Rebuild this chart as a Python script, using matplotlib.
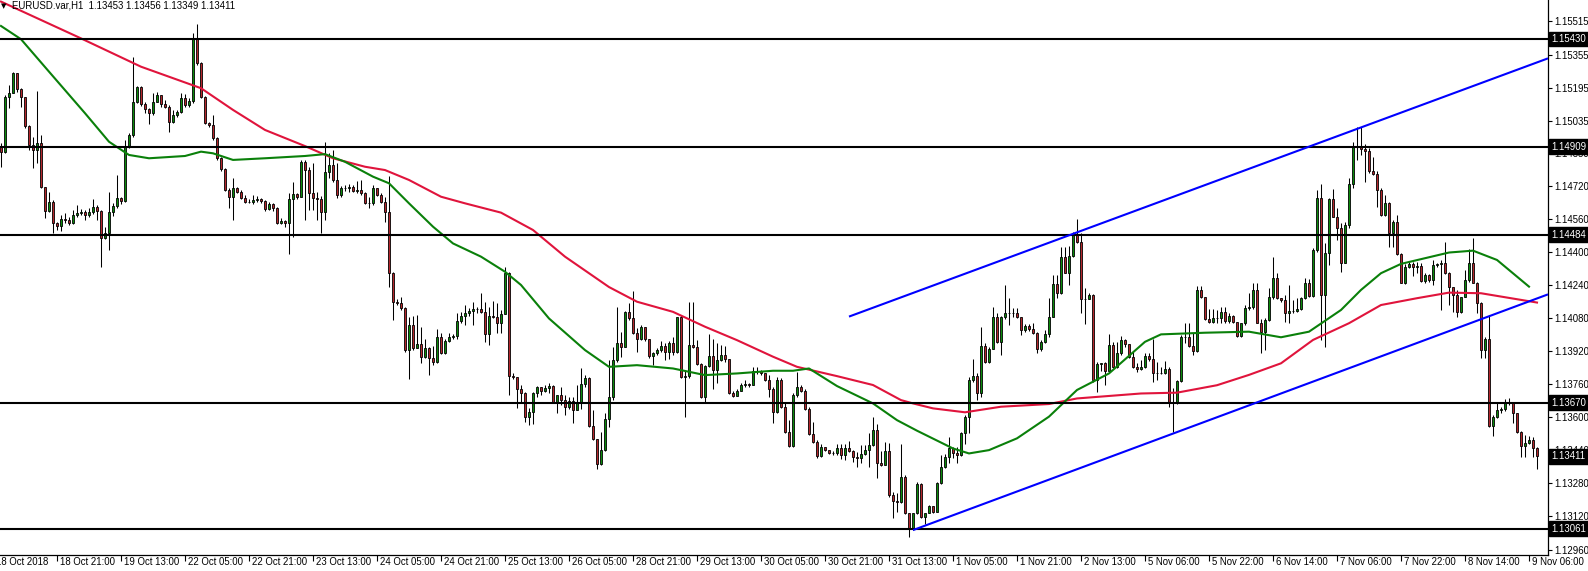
import numpy as np
import matplotlib.pyplot as plt
from matplotlib.transforms import ScaledTranslation, blended_transform_factory

# EURUSD H1 candles, prices in points (1e-5)
open0 = 114909
close_pts = [
    114885, 115151, 115167, 115267, 115187, 115148, 115009, 114917, 114893, 114925,
    114712, 114600, 114643, 114541, 114525, 114558, 114554, 114541, 114579, 114590,
    114593, 114577, 114593, 114619, 114598, 114466, 114490, 114595, 114622, 114659,
    114646, 114912, 114966, 115127, 115196, 115116, 115090, 115071, 115124, 115158,
    115114, 115103, 115027, 115062, 115079, 115143, 115111, 115130, 115429, 115313,
    115151, 115022, 115016, 114951, 114853, 114800, 114700, 114667, 114711, 114692,
    114659, 114643, 114643, 114651, 114654, 114648, 114606, 114632, 114611, 114541,
    114551, 114541, 114654, 114680, 114664, 114837, 114796, 114683, 114659, 114654,
    114594, 114788, 114820, 114748, 114675, 114707, 114711, 114715, 114696, 114699,
    114683, 114635, 114638, 114707, 114675, 114643, 114591, 114296, 114159, 114151,
    114127, 113925, 114046, 113933, 113954, 113890, 113933, 113885, 113869, 113986,
    113912, 113970, 113990, 113993, 114065, 114090, 114106, 114115, 114125, 114125,
    114111, 114002, 114091, 114086, 114054, 114099, 114296, 113799, 113793, 113735,
    113719, 113599, 113627, 113715, 113748, 113728, 113740, 113751, 113670, 113706,
    113683, 113648, 113680, 113635, 113675, 113759, 113791, 113557, 113493, 113373,
    113444, 113590, 113699, 113877, 113957, 113941, 114109, 114078, 114009, 113981,
    114035, 113977, 113896, 113909, 113925, 113944, 113917, 113957, 113917, 114083,
    113793, 113799, 113949, 113938, 113857, 113699, 113847, 113896, 113831, 113877,
    113901, 113880, 113715, 113702, 113726, 113756, 113760, 113756, 113823, 113825,
    113812, 113780, 113739, 113627, 113780, 113651, 113530, 113460, 113707, 113747,
    113728, 113638, 113518, 113481, 113414, 113454, 113444, 113428, 113425, 113449,
    113417, 113449, 113438, 113406, 113401, 113422, 113444, 113465, 113538, 113377,
    113369, 113438, 113224, 113196, 113191, 113309, 113135, 113062, 113135, 113277,
    113119, 113135, 113170, 113143, 113280, 113357, 113406, 113449, 113425, 113417,
    113522, 113599, 113780, 113799, 113715, 113944, 113869, 113928, 114086, 113965,
    114083, 114103, 114106, 114103, 114083, 114022, 114041, 114025, 114009, 113928,
    113965, 114003, 114086, 114245, 114199, 114374, 114299, 114380, 114482, 114449,
    114170, 114174, 114190, 113780, 113857, 113861, 113825, 113949, 113845, 113909,
    113973, 113954, 113893, 113845, 113832, 113841, 113896, 113880, 113812, 113812,
    113815, 113832, 113670, 113667, 113777, 113986, 113990, 113944, 113922, 114215,
    114180, 114074, 114062, 114078, 114079, 114111, 114068, 114090, 114063, 113993,
    114055, 114127, 114132, 114216, 114058, 114014, 114071, 114181, 114272, 114176,
    114168, 114103, 114114, 114114, 114122, 114176, 114251, 114187, 114410, 114660,
    114192, 114393, 114655, 114571, 114514, 114348, 114531, 114729, 114906, 114906,
    114897, 114890, 114789, 114777, 114700, 114579, 114635, 114493, 114547, 114390,
    114251, 114329, 114342, 114329, 114332, 114261, 114289, 114264, 114337, 114342,
    114348, 114297, 114229, 114192, 114111, 114181, 114264, 114345, 114251, 114155,
    113926, 113977, 113557, 113603, 113635, 113638, 113675, 113675, 113622, 113530,
    113461, 113477, 113490, 113453, 113411,
]
high_pts = [
    114925, 115159, 115208, 115272, 115267, 115192, 115151, 115014, 114958, 115180,
    114966, 114716, 114692, 114651, 114546, 114579, 114587, 114571, 114603, 114627,
    114606, 114603, 114611, 114654, 114627, 114603, 114522, 114692, 114635, 114772,
    114667, 114942, 114974, 115345, 115203, 115203, 115127, 115095, 115171, 115174,
    115159, 115135, 115111, 115087, 115087, 115167, 115164, 115143, 115458, 115503,
    115321, 115154, 115030, 115062, 114958, 114861, 114804, 114708, 114756, 114716,
    114700, 114675, 114654, 114675, 114671, 114659, 114651, 114643, 114635, 114619,
    114562, 114554, 114687, 114740, 114683, 114845, 114844, 114812, 114828, 114691,
    114670, 114933, 114877, 114893, 114828, 114719, 114723, 114728, 114723, 114744,
    114748, 114691, 114667, 114723, 114711, 114683, 114667, 114767, 114304, 114170,
    114183, 114135, 114086, 114090, 114094, 114038, 113981, 113941, 113944, 114025,
    114006, 113981, 114006, 114002, 114102, 114111, 114143, 114127, 114159, 114135,
    114199, 114159, 114135, 114164, 114151, 114119, 114328, 114304, 113815, 113796,
    113756, 113723, 113643, 113723, 113751, 113748, 113756, 113767, 113756, 113707,
    113748, 113707, 113699, 113699, 113756, 113836, 113804, 113796, 113635, 113497,
    113530, 113619, 113877, 113941, 114135, 114014, 114115, 114151, 114212, 114030,
    114046, 114038, 113981, 113917, 113933, 113970, 113960, 113970, 113989, 114086,
    114094, 113828, 114159, 114159, 113973, 113864, 113852, 114002, 113981, 113960,
    113949, 113944, 113860, 113728, 113739, 113767, 113780, 113767, 113844, 113841,
    113831, 113812, 113804, 113748, 113793, 113788, 113667, 113586, 113715, 113820,
    113756, 113739, 113651, 113578, 113489, 113470, 113457, 113441, 113438, 113470,
    113470, 113470, 113486, 113441, 113433, 113465, 113465, 113522, 113603, 113567,
    113438, 113482, 113474, 113240, 113232, 113470, 113320, 113138, 113138, 113288,
    113280, 113138, 113175, 113173, 113288, 113417, 113422, 113503, 113457, 113457,
    113530, 113611, 113796, 113880, 113812, 114038, 113957, 113941, 114132, 114102,
    114090, 114240, 114175, 114127, 114127, 114086, 114051, 114051, 114054, 114014,
    113973, 114022, 114175, 114288, 114288, 114425, 114425, 114428, 114498, 114557,
    114490, 114224, 114199, 114195, 113869, 113864, 113869, 114003, 113965, 113965,
    113993, 113981, 113949, 113917, 113864, 113877, 113912, 113909, 113977, 113869,
    113844, 113874, 113845, 113740, 113780, 113998, 114057, 114057, 114006, 114235,
    114235, 114183, 114122, 114122, 114119, 114135, 114135, 114103, 114095, 114061,
    114058, 114143, 114200, 114248, 114251, 114074, 114079, 114224, 114377, 114297,
    114176, 114192, 114240, 114168, 114176, 114184, 114272, 114268, 114418, 114700,
    114729, 114442, 114660, 114703, 114611, 114539, 114547, 114756, 114934, 115003,
    115003, 114922, 114902, 114861, 114789, 114708, 114676, 114643, 114555, 114579,
    114393, 114342, 114353, 114353, 114353, 114348, 114297, 114293, 114361, 114348,
    114361, 114450, 114305, 114232, 114216, 114184, 114313, 114413, 114466, 114256,
    114160, 113990, 114095, 113611, 113667, 113648, 113687, 113691, 113675, 113606,
    113535, 113514, 113509, 113506, 113456,
]
low_pts = [
    114812, 114880, 115095, 115167, 115175, 115103, 114998, 114893, 114804, 114829,
    114708, 114562, 114595, 114493, 114506, 114503, 114541, 114530, 114535, 114571,
    114579, 114554, 114571, 114583, 114554, 114329, 114461, 114409, 114574, 114611,
    114632, 114643, 114901, 114958, 115119, 115106, 115074, 115019, 115062, 115127,
    115100, 115095, 114982, 115022, 115054, 115071, 115103, 115103, 115122, 115304,
    115143, 115019, 115006, 114942, 114845, 114793, 114696, 114611, 114554, 114683,
    114654, 114635, 114635, 114632, 114643, 114638, 114600, 114603, 114600, 114535,
    114535, 114522, 114390, 114474, 114654, 114664, 114554, 114602, 114602, 114554,
    114490, 114554, 114756, 114740, 114659, 114664, 114696, 114691, 114691, 114683,
    114675, 114632, 114611, 114627, 114670, 114635, 114546, 114232, 114070, 114143,
    114119, 113917, 113783, 113925, 113941, 113861, 113885, 113804, 113853, 113864,
    113906, 113906, 113965, 113977, 113981, 114057, 114046, 114090, 114046, 114102,
    114102, 113965, 113949, 114078, 114006, 114006, 114127, 113707, 113783, 113643,
    113670, 113578, 113562, 113567, 113699, 113707, 113723, 113715, 113667, 113622,
    113659, 113610, 113638, 113573, 113635, 113638, 113748, 113554, 113490, 113352,
    113369, 113438, 113554, 113683, 113868, 113893, 113938, 114070, 114002, 113917,
    113973, 113970, 113889, 113852, 113901, 113917, 113877, 113880, 113901, 113909,
    113788, 113602, 113788, 113933, 113852, 113691, 113675, 113841, 113739, 113764,
    113873, 113868, 113712, 113699, 113702, 113728, 113744, 113748, 113756, 113809,
    113804, 113777, 113699, 113573, 113622, 113647, 113525, 113454, 113457, 113699,
    113723, 113635, 113514, 113477, 113401, 113409, 113438, 113422, 113417, 113417,
    113396, 113393, 113433, 113385, 113357, 113377, 113417, 113357, 113461, 113304,
    113364, 113369, 113215, 113111, 113143, 113186, 113132, 113022, 113054, 113132,
    113115, 113083, 113138, 113138, 113143, 113277, 113353, 113377, 113401, 113377,
    113412, 113470, 113522, 113772, 113683, 113699, 113861, 113864, 113941, 113957,
    113901, 114074, 114046, 114083, 114078, 113998, 114014, 114019, 114003, 113909,
    113922, 113961, 113990, 114083, 114175, 114196, 114296, 114240, 114374, 114445,
    114103, 114051, 114170, 113772, 113724, 113825, 113756, 113825, 113836, 113836,
    113901, 113941, 113885, 113836, 113820, 113828, 113836, 113873, 113772, 113780,
    113809, 113809, 113651, 113530, 113664, 113772, 113961, 113941, 113901, 113917,
    114175, 114070, 114054, 114054, 114055, 114055, 114055, 114055, 114055, 113987,
    113990, 114047, 114119, 114122, 114055, 113913, 113926, 114068, 114171, 114171,
    114160, 114063, 114058, 114106, 114111, 114119, 114171, 114181, 114181, 114401,
    113974, 113942, 114337, 114568, 114458, 114305, 114345, 114514, 114708, 114845,
    114869, 114740, 114784, 114772, 114619, 114574, 114574, 114426, 114426, 114385,
    114248, 114245, 114321, 114281, 114297, 114256, 114248, 114256, 114240, 114329,
    114119, 114293, 114143, 114111, 114087, 114103, 114181, 114256, 114248, 114106,
    113885, 113885, 113554, 113509, 113595, 113619, 113632, 113659, 113574, 113525,
    113406, 113406, 113470, 113409, 113349,
]

# moving averages: (bar index, price)
ma_slow_idx = [0, 20, 35, 50, 58, 66, 76, 83, 91, 96, 102, 110, 116, 125, 133, 141, 152,
               159, 168, 176, 184, 193, 199, 209, 218, 225, 228, 233, 241, 250, 262, 269,
               285, 294, 304, 312, 320, 328, 337, 345, 354, 362, 370, 384]
ma_slow_val = [1.15611, 1.15433, 1.15296, 1.15192, 1.15087, 1.14990, 1.14912, 1.14853,
               1.14812, 1.14796, 1.14748, 1.14667, 1.14635, 1.14590, 1.14506, 1.14377,
               1.14230, 1.14159, 1.14110, 1.14038, 1.13973, 1.13893, 1.13844, 1.13799,
               1.13756, 1.13683, 1.13667, 1.13643, 1.13624, 1.13651, 1.13664, 1.13691,
               1.13715, 1.13719, 1.13755, 1.13805, 1.13861, 1.13974, 1.14055, 1.14143,
               1.14176, 1.14203, 1.14200, 1.14155]
ma_fast_idx = [0, 5, 12, 21, 27, 32, 37, 46, 50, 53, 58, 66, 76, 81, 86, 93, 97, 102,
               108, 113, 120, 126, 130, 137, 146, 152, 159, 168, 176, 184, 193, 198, 202,
               209, 218, 224, 229, 238, 242, 247, 254, 262, 269, 277, 286, 290, 301, 312,
               320, 327, 335, 340, 345, 350, 362, 368, 374, 382]
ma_fast_val = [1.15493, 1.15429, 1.15272, 1.15071, 1.14933, 1.14869, 1.14853, 1.14864,
               1.14885, 1.14877, 1.14845, 1.14853, 1.14864, 1.14873, 1.14836, 1.14764,
               1.14732, 1.14635, 1.14522, 1.14441, 1.14377, 1.14304, 1.14240, 1.14078,
               1.13925, 1.13844, 1.13852, 1.13836, 1.13804, 1.13812, 1.13825, 1.13825,
               1.13836, 1.13751, 1.13667, 1.13586, 1.13535, 1.13449, 1.13425, 1.13441,
               1.13498, 1.13603, 1.13732, 1.13812, 1.13965, 1.14001, 1.14009, 1.14014,
               1.13987, 1.14014, 1.14119, 1.14216, 1.14297, 1.14342, 1.14397, 1.14406,
               1.14361, 1.14232]

levels = [1.15430, 1.14909, 1.14484, 1.13670, 1.13061]
# trend lines: two anchors each (bar index, price), extended to the right
trend_upper = [(212, 1.14087), (339, 1.14995)]
trend_lower = [(228, 1.13054), (293, 1.13521)]

price_ticks = [1.12960, 1.13120, 1.13280, 1.13440, 1.13600, 1.13760, 1.13920, 1.14080,
               1.14240, 1.14400, 1.14560, 1.14720, 1.14880, 1.15035, 1.15195, 1.15355,
               1.15515]
time_labels = ["18 Oct 2018", "18 Oct 21:00", "19 Oct 13:00", "22 Oct 05:00",
               "22 Oct 21:00", "23 Oct 13:00", "24 Oct 05:00", "24 Oct 21:00",
               "25 Oct 13:00", "26 Oct 05:00", "28 Oct 21:00", "29 Oct 13:00",
               "30 Oct 05:00", "30 Oct 21:00", "31 Oct 13:00", "1 Nov 05:00",
               "1 Nov 21:00", "2 Nov 13:00", "5 Nov 06:00", "5 Nov 22:00",
               "6 Nov 14:00", "7 Nov 06:00", "7 Nov 22:00", "8 Nov 14:00", "9 Nov 06:00"]
last_bar = [1.13453, 1.13456, 1.13349, 1.13411]
title = "EURUSD.var,H1  " + " ".join(f"{v:.5f}" for v in last_bar)

plt.rcParams["font.family"] = ["Liberation Sans", "DejaVu Sans"]
FS = 6.9

closes = np.array(close_pts) / 1e5
opens = np.r_[open0, close_pts[:-1]] / 1e5
opens[-1] = last_bar[0]
highs = np.maximum(np.array(high_pts) / 1e5, np.maximum(opens, closes))
lows = np.minimum(np.array(low_pts) / 1e5, np.minimum(opens, closes))
x = np.arange(len(closes))

fig = plt.figure(figsize=(15.88, 5.71), dpi=100)
ax = fig.add_axes([0, 16 / 571, 1548 / 1588, 555 / 571])
ax.set_xlim(-0.25, 386.75)
ax.set_ylim(1.129336, 1.156187)

up = closes >= opens
colors = np.where(up, "#0b8a0b", "#b3262c")
ax.vlines(x, lows, highs, color="black", lw=0.75, zorder=1)
ax.bar(x, closes - opens, bottom=opens, width=0.65, color=colors,
       edgecolor="black", linewidth=0.6, zorder=2)

ax.plot(ma_slow_idx, ma_slow_val, color="#e0143c", lw=1.5, zorder=3)
ax.plot(ma_fast_idx, ma_fast_val, color="#0a800a", lw=1.5, zorder=3)

for lv in levels:
    ax.axhline(lv, color="black", lw=1.5, zorder=4)

xmax = ax.get_xlim()[1]
for (x0, y0), (x1, y1) in (trend_upper, trend_lower):
    slope = (y1 - y0) / (x1 - x0)
    ax.plot([x0, xmax], [y0, y0 + slope * (xmax - x0)], color="#0000ff", lw=1.5,
            zorder=4, solid_capstyle="butt")

for s in ("left", "top"):
    ax.spines[s].set_visible(False)
for s in ("right", "bottom"):
    ax.spines[s].set_linewidth(0.9)

# price axis on the right
ax.yaxis.tick_right()
ax.set_yticks(price_ticks)
ax.set_yticklabels([f"{t:.5f}" for t in price_ticks], fontsize=FS)
ax.tick_params(axis="y", length=3, width=0.8, pad=1.5)

# time axis: ticks every 16 bars ending at the 9 Nov 06:00 bar
tick_bars = [382 - 16 * (len(time_labels) - 1 - k) for k in range(len(time_labels))]
ax.set_xticks([b for b in tick_bars if b >= 0])
ax.set_xticklabels([])
ax.tick_params(axis="x", length=4, width=0.8)
trans = blended_transform_factory(ax.transData, ax.transAxes)
for b, lab in zip(tick_bars, time_labels):
    ax.text(b, 0, lab, fontsize=FS, ha="left", va="center", clip_on=False,
            transform=trans + ScaledTranslation(3 / 100, -7 / 100, fig.dpi_scale_trans))

# level labels and current price label
ytrans = blended_transform_factory(ax.transAxes, ax.transData)
for lv in levels + [last_bar[3]]:
    ax.text(1, lv, f"{lv:.5f}", fontsize=FS, color="white", ha="left", va="center",
            clip_on=False, zorder=10,
            transform=ytrans + ScaledTranslation(3 / 100, 0, fig.dpi_scale_trans),
            bbox=dict(boxstyle="square,pad=0.25", fc="black", ec="black"))

fig.text(1 / 1588, 1 - 6 / 571, "\u25bc", fontsize=5, va="center", ha="left",
         family="DejaVu Sans")
fig.text(12 / 1588, 1 - 6 / 571, title, fontsize=FS, va="center", ha="left")

fig.savefig("out.png", dpi=100, facecolor="white")
